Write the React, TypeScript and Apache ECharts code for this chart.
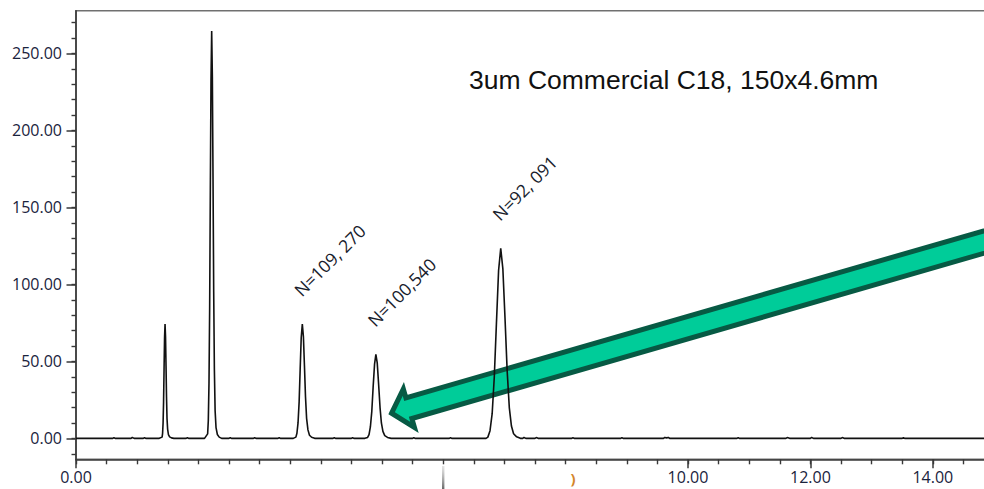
import React, { useEffect, useRef } from "react";
import * as echarts from "echarts";

// Retention time (min) vs detector response, sampled along the trace
const baselineStart: [number, number][] = [
  [0, 0], [0.6, 0], [0.62, 0.5], [0.64, 0], [0.9, 0], [0.92, 0.6], [0.95, 0],
  [1.1, 0], [1.12, 0.5], [1.14, 0],
];
const peak1: [number, number][] = [
  [1.36, 0], [1.407, 0.8], [1.415, 3.3], [1.423, 10], [1.431, 23.7], [1.439, 45],
  [1.447, 65.3], [1.455, 74.2], [1.463, 66], [1.471, 47], [1.479, 27], [1.487, 13],
  [1.497, 6], [1.51, 2.5], [1.53, 1], [1.56, 0.3], [1.6, 0],
  [1.8, 0], [1.82, 0.4], [1.84, 0],
];
const peak2: [number, number][] = [
  [2.1, 0], [2.151, 2.9], [2.162, 11.6], [2.173, 35.7], [2.184, 84.6], [2.195, 161.3],
  [2.206, 232.8], [2.217, 264.5], [2.228, 235], [2.239, 168], [2.25, 95], [2.261, 45],
  [2.273, 18], [2.288, 7], [2.31, 2.5], [2.34, 0.8], [2.38, 0],
  [2.5, 0], [2.52, 0.5], [2.54, 0], [2.9, 0], [2.92, 0.4], [2.94, 0],
  [3.3, 0], [3.32, 0.5], [3.34, 0],
];
const peak3: [number, number][] = [
  [3.55, 0], [3.593, 0.8], [3.61, 3.3], [3.628, 10], [3.646, 23.7], [3.663, 45],
  [3.68, 65.3], [3.698, 74.2], [3.716, 66], [3.733, 47], [3.75, 27], [3.768, 13],
  [3.79, 5.5], [3.815, 2], [3.85, 0.7], [3.9, 0],
  [4.2, 0], [4.22, 0.5], [4.24, 0], [4.5, 0], [4.52, 0.4], [4.54, 0],
];
const peak4: [number, number][] = [
  [4.72, 0], [4.765, 0.6], [4.788, 2.4], [4.81, 7.4], [4.833, 17.4], [4.855, 33.2],
  [4.878, 48], [4.9, 54.5], [4.922, 49], [4.945, 35], [4.968, 20], [4.99, 10],
  [5.015, 4.5], [5.045, 1.8], [5.09, 0.6], [5.15, 0],
  [5.5, 0], [5.52, 0.5], [5.54, 0], [6.1, 0], [6.12, 0.5], [6.14, 0],
];
const peak5: [number, number][] = [
  [6.7, 0], [6.73, 0.8], [6.765, 5], [6.8, 16], [6.835, 40], [6.87, 75], [6.905, 109],
  [6.94, 123.4], [6.975, 110], [7.01, 78], [7.045, 44], [7.08, 20], [7.115, 8],
  [7.15, 3], [7.2, 1], [7.26, 0],
];
const baselineEnd: [number, number][] = [
  [7.3, 0], [7.32, 0.6], [7.35, 0], [7.5, 0], [7.52, 0.5], [7.55, 0], [8.1, 0],
  [8.12, 0.4], [8.14, 0], [8.9, 0], [8.92, 0.5], [8.94, 0], [9.6, 0], [9.62, 0.6],
  [9.65, 0.3], [9.68, 0.6], [9.7, 0], [10.8, 0], [10.82, 0.5], [10.84, 0],
  [11.6, 0], [11.62, 0.5], [11.66, 0], [12.0, 0], [12.02, 0.6], [12.05, 0],
  [12.5, 0], [12.52, 0.5], [12.55, 0], [13.5, 0], [13.52, 0.5], [13.54, 0], [15, 0],
];

// Plate-count annotations at the apex of each labelled peak
const plateLabels: { text: string; rt: number; height: number }[] = [
  { text: "N=109, 270", rt: 3.698, height: 74.2 },
  { text: "N=100,540", rt: 4.9, height: 54.5 },
  { text: "N=92, 091", rt: 6.94, height: 123.4 },
];

const yLabelValues = [0, 50, 100, 150, 200, 250];
const yMinorValues = [-10, 0, 10, 20, 30, 40, 50, 60, 70, 80, 90, 100, 110, 120, 130, 140, 150, 160, 170, 180, 190, 200, 210, 220, 230, 240, 250, 260, 270];
const xLabelValues = [0, 10, 12, 14];
const xMinorValues = [0, 0.5, 1, 1.5, 2, 2.5, 3, 3.5, 4, 4.5, 5, 5.5, 6, 6.5, 7, 7.5, 8, 8.5, 9, 9.5, 10, 10.5, 11, 11.5, 12, 12.5, 13, 13.5, 14, 14.5, 15];

const title = "3um Commercial C18, 150x4.6mm";
const arrowTip: [number, number] = [5.11, 15.8];

const axisColor = "#383838";
const labelColor = "#1a233d";
const labelFont = '"Open Sans", "Noto Sans", sans-serif';

export default function App() {
  const ref = useRef<HTMLDivElement>(null);

  useEffect(() => {
    const chart = echarts.init(ref.current!, null, { renderer: "svg" });
    const trace = [...baselineStart, ...peak1, ...peak2, ...peak3, ...peak4, ...peak5, ...baselineEnd];
    const fmt = (v: number) => v.toFixed(2);

    chart.setOption({
      animation: false,
      backgroundColor: "#ffffff",
      grid: {
        left: 76,
        top: 10.7,
        width: 918,
        height: 448.6,
        show: true,
        borderColor: "#707070",
        borderWidth: 1.5,
        backgroundColor: "transparent",
      },
      xAxis: [
        {
          type: "value",
          min: 0,
          max: 15,
          position: "bottom",
          axisLine: { show: true, onZero: false, lineStyle: { color: axisColor, width: 1.6 } },
          axisTick: { show: true, customValues: xLabelValues, length: 9, lineStyle: { color: axisColor, width: 1.5 } },
          axisLabel: {
            customValues: xLabelValues,
            formatter: fmt,
            margin: 10,
            fontSize: 16,
            fontFamily: labelFont,
            color: labelColor,
          },
          splitLine: { show: false },
        },
        {
          type: "value",
          min: 0,
          max: 15,
          position: "bottom",
          axisLine: { show: false, onZero: false },
          axisTick: { show: true, customValues: xMinorValues, length: 5, lineStyle: { color: axisColor, width: 1.4 } },
          axisLabel: { show: false },
          splitLine: { show: false },
        },
      ],
      yAxis: [
        {
          type: "value",
          min: -13.6,
          max: 277.7,
          position: "left",
          axisLine: { show: true, onZero: false, lineStyle: { color: axisColor, width: 1.6 } },
          axisTick: { show: true, customValues: yLabelValues, length: 9.5, lineStyle: { color: axisColor, width: 1.5 } },
          axisLabel: {
            customValues: yLabelValues,
            formatter: fmt,
            margin: 14,
            fontSize: 16,
            fontFamily: labelFont,
            color: labelColor,
          },
          splitLine: { show: false },
        },
        {
          type: "value",
          min: -13.6,
          max: 277.7,
          position: "left",
          offset: 0,
          axisLine: { show: false, onZero: false },
          axisTick: { show: true, customValues: yMinorValues, length: 4.5, lineStyle: { color: axisColor, width: 1.4 } },
          axisLabel: { show: false },
          splitLine: { show: false },
        },
      ],
      series: [
        {
          type: "line",
          data: trace,
          xAxisIndex: 0,
          yAxisIndex: 0,
          showSymbol: false,
          symbol: "none",
          z: 5,
          lineStyle: { color: "#111111", width: 1.6 },
        },
      ],
    });

    const toPx = (p: [number, number]) =>
      chart.convertToPixel({ xAxisIndex: 0, yAxisIndex: 0 }, p) as number[];

    // Rotated plate-count labels
    const labelEls = plateLabels.map((l) => {
      const [px, py] = toPx([l.rt, l.height]);
      return {
        type: "text",
        x: px + 1,
        y: py - 25,
        rotation: Math.PI / 4,
        z: 20,
        style: {
          text: l.text,
          x: 0,
          y: 0,
          align: "left",
          verticalAlign: "bottom",
          fontSize: 17.5,
          fontFamily: labelFont,
          fill: "#181c2c",
        },
      };
    });

    // Green pointer arrow aimed at the second labelled peak
    const [tx, ty] = toPx(arrowTip);
    const ux = 0.9607, uy = -0.2776, nx = 0.2776, ny = 0.9607;
    const local: [number, number][] = [
      [3, 0], [21, -20], [21, -10.8], [720, -10.8], [720, 10.8], [21, 10.8], [21, 20],
    ];
    const arrowPts = local.map(([a, b]) => [tx + a * ux + b * nx, ty + a * uy + b * ny]);

    const [t6x] = toPx([6, 0]);
    const [t8x] = toPx([8.12, 0]);

    chart.setOption({
      graphic: [
        {
          type: "polygon",
          z: 1,
          shape: { points: arrowPts },
          style: { fill: "#00cc99", stroke: "#075a44", lineWidth: 5, lineJoin: "miter" },
        },
        {
          type: "text",
          x: 469,
          y: 80,
          z: 20,
          style: {
            text: title,
            align: "left",
            verticalAlign: "middle",
            fontSize: 26.5,
            fontFamily: '"Liberation Sans", Arial, sans-serif',
            fill: "#111111",
          },
        },
        {
          type: "rect",
          z: 20,
          shape: { x: t6x - 1.2, y: 466, width: 2.4, height: 23 },
          style: {
            fill: new echarts.graphic.LinearGradient(0, 0, 0, 1, [
              { offset: 0, color: "rgba(200,200,200,0.5)" },
              { offset: 1, color: "rgba(105,105,105,1)" },
            ]),
          },
        },
        {
          type: "text",
          x: t8x,
          y: 478,
          z: 20,
          style: { text: ")", align: "center", verticalAlign: "middle", fontSize: 15, fontWeight: "bold", fontFamily: labelFont, fill: "#d4862a" },
        },
        ...labelEls,
      ],
    });

    return () => chart.dispose();
  }, []);

  return (
    <div style={{ position: "absolute", left: 0, top: 0, width: 984, height: 489, overflow: "hidden", background: "#ffffff" }}>
      <div ref={ref} style={{ width: 1000, height: 489 }} />
    </div>
  );
}
